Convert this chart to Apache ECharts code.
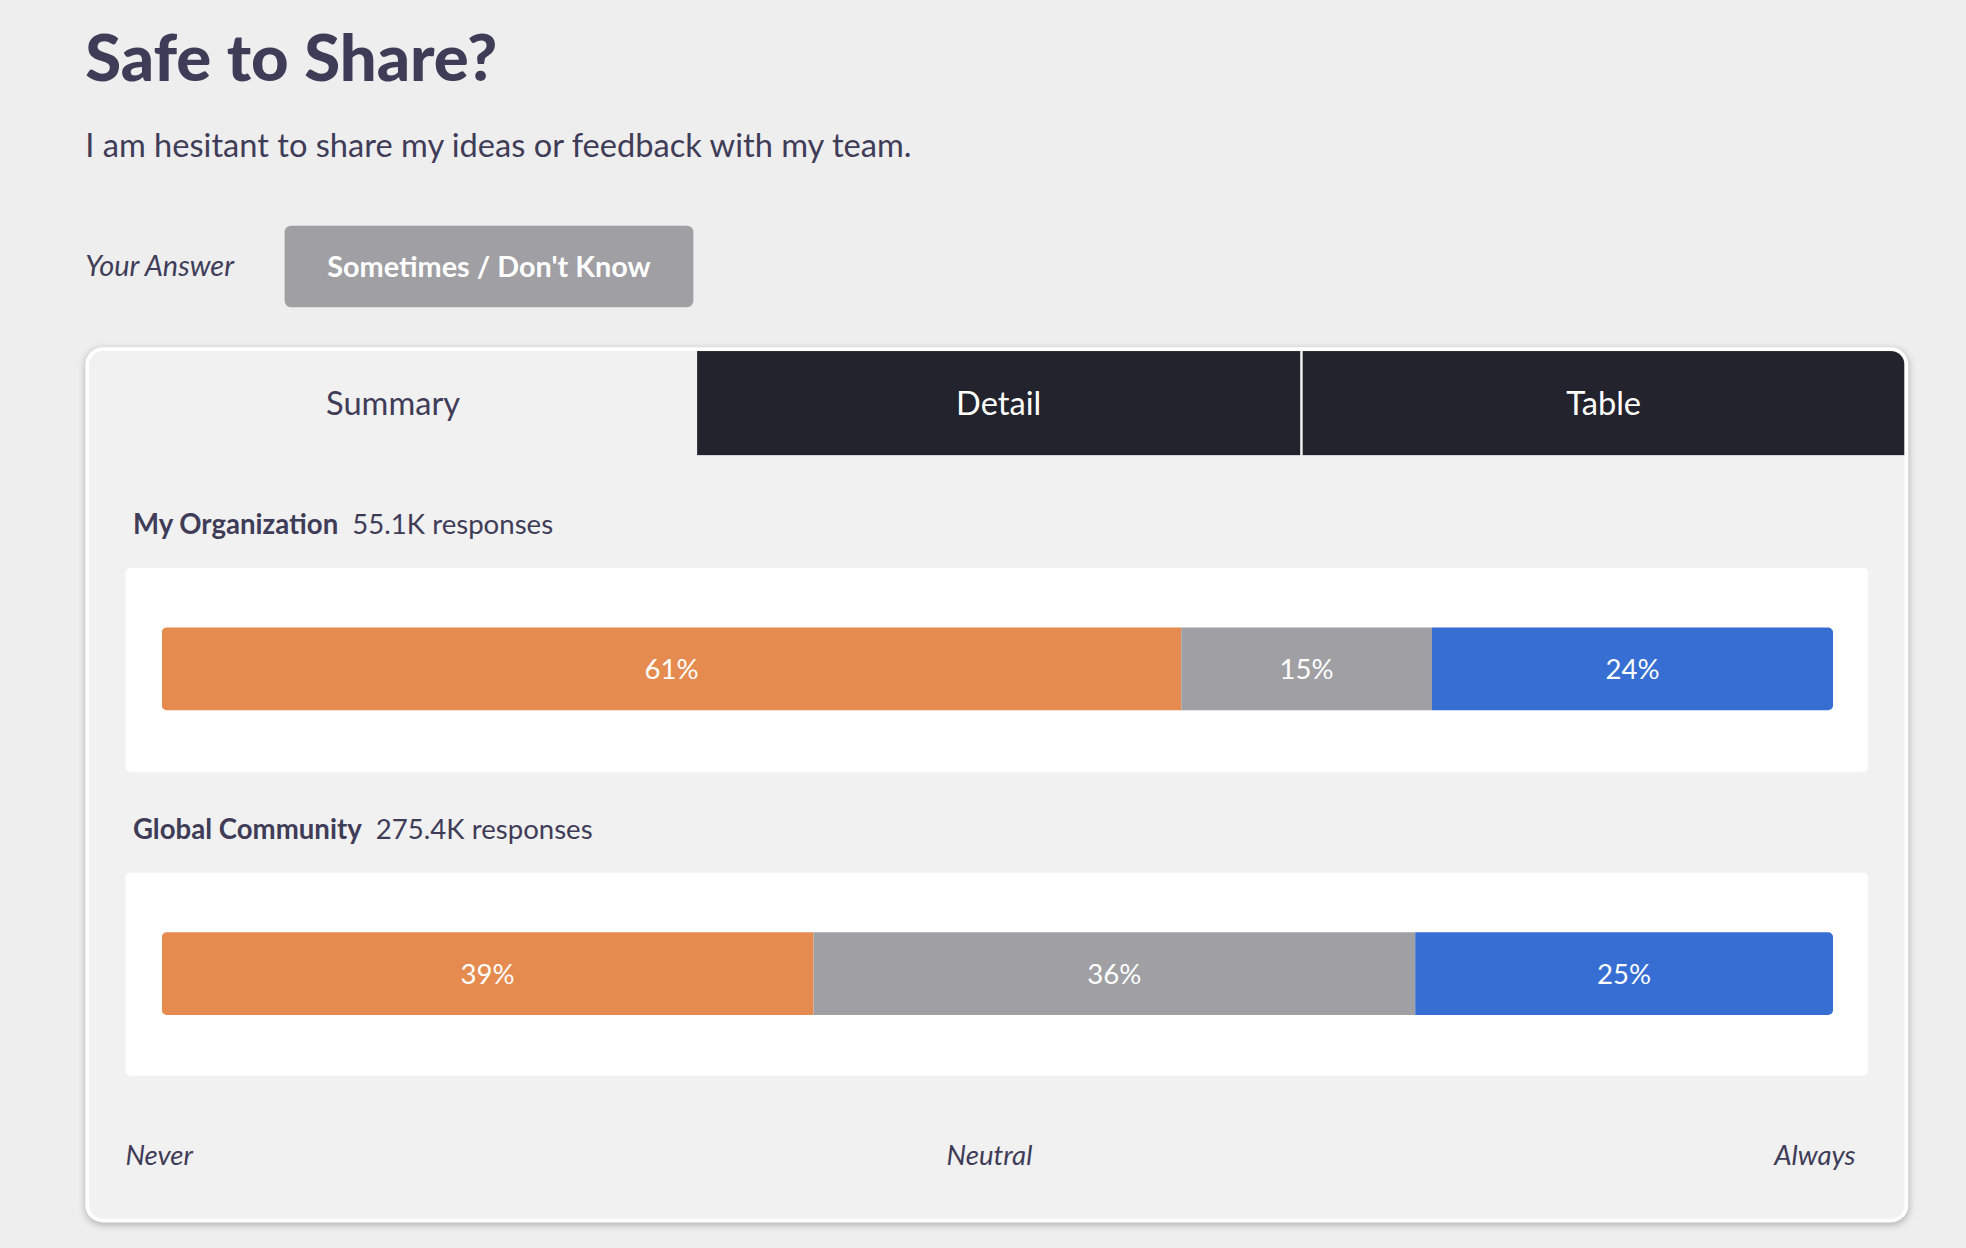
<!DOCTYPE html>
<html><head><meta charset="utf-8">
<script src="https://cdn.jsdelivr.net/npm/echarts@6/dist/echarts.min.js"></script>
<style>
html,body{margin:0;padding:0;background:#eeeeee;width:1966px;height:1248px;overflow:hidden;font-family:Lato,"Open Sans",sans-serif;color:#3f3c58}
#stage{position:absolute;left:0;top:0;width:1568px;height:995px;transform:scale(1.2538);transform-origin:0 0}
.a{position:absolute;white-space:nowrap}
</style></head><body>
<div id="stage">
 <div class="a" style="left:68px;top:14px;font-size:52px;font-weight:900;">Safe to Share?</div>
 <div class="a" style="left:68px;top:99px;font-size:26px;">I am hesitant to share my ideas or feedback with my team.</div>
 <div class="a" style="left:68px;top:197px;font-size:23px;font-style:italic;">Your Answer</div>
 <div class="a" style="left:227px;top:180px;width:326px;height:65px;background:#a09fa4;border-radius:5px;color:#fff;font-size:23px;font-weight:bold;line-height:65px;text-align:center;">Sometimes / Don't Know</div>
 <div class="a" style="left:68px;top:277px;width:1448px;height:692px;background:#f1f1f1;border:3px solid #fff;border-radius:14px;box-shadow:0 2px 6px rgba(0,0,0,0.25);overflow:hidden;">
  <div class="a" style="left:0;top:0;width:485px;height:83px;line-height:83px;text-align:center;font-size:26px;">Summary</div>
  <div class="a" style="left:485px;top:0;width:481px;height:83px;background:#23232d;color:#fff;line-height:83px;text-align:center;font-size:26px;">Detail</div>
  <div class="a" style="left:968px;top:0;width:480px;height:83px;background:#23232d;color:#fff;line-height:83px;text-align:center;font-size:26px;">Table</div>
 </div>
 <div class="a" style="left:106px;top:404px;font-size:22px;"><b>My Organization</b>&nbsp; 55.1K responses</div>
 <div class="a" style="left:100px;top:453px;width:1390px;height:163px;background:#fff;border-radius:4px;"></div>
 <div class="a" style="left:106px;top:647px;font-size:22px;"><b>Global Community</b>&nbsp; 275.4K responses</div>
 <div class="a" style="left:100px;top:696px;width:1390px;height:162px;background:#fff;border-radius:4px;"></div>
 <div class="a" style="left:100px;top:907px;font-size:22px;font-style:italic;">Never</div>
 <div class="a" style="left:755px;top:907px;font-size:22px;font-style:italic;">Neutral</div>
 <div class="a" style="left:1415px;top:907px;font-size:22px;font-style:italic;">Always</div>
 <div id="chart" class="a" style="left:129px;top:412px;width:1333px;height:486px;"></div>
</div>
<script>
const groups = ["My Organization", "Global Community"];
const neverVals = [61, 39];
const neutralVals = [15, 36];
const alwaysVals = [24, 25];
const colors = ["#e68b4f", "#a09fa4", "#366ed3"];
const chart = echarts.init(document.getElementById('chart'), null, {renderer:'svg'});
const lbl = {show:true, position:'inside', color:'#fff', fontSize:22, fontFamily:'Lato', formatter: p => p.value + '%'};
function s(name, data, color, radius){
  return {name, type:'bar', stack:'t', data, barWidth:66, label:lbl,
    itemStyle:{color, borderRadius:radius}};
}
chart.setOption({
  animation:false,
  grid:{left:0,right:0,top:0,bottom:0},
  xAxis:{type:'value', min:0, max:100, show:false},
  yAxis:{type:'category', data:groups, inverse:true, show:false},
  series:[
    s('Never', neverVals, colors[0], [4,0,0,4]),
    s('Neutral', neutralVals, colors[1], 0),
    s('Always', alwaysVals, colors[2], [0,4,4,0])
  ]
});
</script>
</body></html>
